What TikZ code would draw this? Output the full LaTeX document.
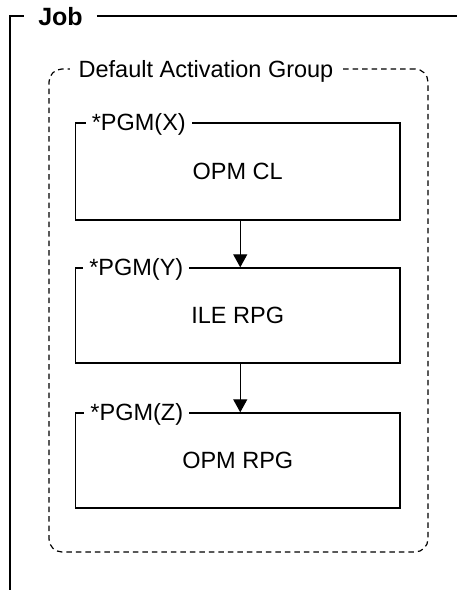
\documentclass[tikz,border=0pt]{standalone}
\usepackage{fontspec}
\setmainfont{Liberation Sans}
\usetikzlibrary{arrows.meta,calc}
\begin{document}
\begin{tikzpicture}[x=1pt,y=-1pt,
  txt/.style={font=\fontsize{23.5}{28}\selectfont},
  frame/.style={line width=2pt},
  grpbox/.style={draw, dashed, dash pattern=on 5.5pt off 4pt, line width=1.2pt, rounded corners=13pt, minimum width=379pt, minimum height=483pt, inner sep=0pt},
  pgmbox/.style={draw, line width=1.4pt, minimum width=324.5pt, minimum height=96pt, inner sep=0pt, txt},
  pgmlbl/.style={txt, fill=white, inner xsep=6pt, inner ysep=1pt, anchor=base},
  arr/.style={line width=1.2pt, -{Triangle[width=14pt,length=13pt]}}
]
\useasboundingbox (0,0) rectangle (457,590);
\fill[white] (0,0) rectangle (457,590);

% Job frame
\node[font=\bfseries\fontsize{25}{30}\selectfont, anchor=base, inner xsep=14pt, inner ysep=0pt] (job) at (60.5,25) {Job};
\coordinate (jobbl) at (10,590);
\coordinate (jobtl) at (10,16);
\coordinate (jobtr) at (457,16);
\draw[frame] (jobbl) -- (jobtl) -- (jobtl -| job.west);
\draw[frame] (jobtl -| job.east) -- (jobtr);

% Default activation group
\node[grpbox] (grp) at (238.5,310.5) {};
\node[txt, fill=white, inner xsep=8.5pt, inner ysep=1pt, anchor=base] (grplbl) at (206,77.5) {Default Activation Group};

% Programs
\node[pgmbox, minimum height=97pt] (bx) at (237.75,171.5) {\raisebox{-5pt}{OPM CL}};
\node[pgmbox, minimum height=95pt] (by) at (237.75,315.5) {\raisebox{-1pt}{ILE RPG}};
\node[pgmbox, minimum height=95pt] (bz) at (237.75,460.5) {\raisebox{-1pt}{OPM RPG}};

\node[pgmlbl] (lx) at ($(bx.north west)+(64,8.5)$) {*PGM(X)};
\node[pgmlbl] (ly) at ($(by.north west)+(61.5,8.5)$) {*PGM(Y)};
\node[pgmlbl] (lz) at ($(bz.north west)+(62,8.5)$) {*PGM(Z)};

\draw[arr] ([xshift=2.5pt]bx.south) -- ([xshift=2.5pt]by.north);
\draw[arr] ([xshift=2.5pt]by.south) -- ([xshift=2.5pt]bz.north);
\end{tikzpicture}
\end{document}
